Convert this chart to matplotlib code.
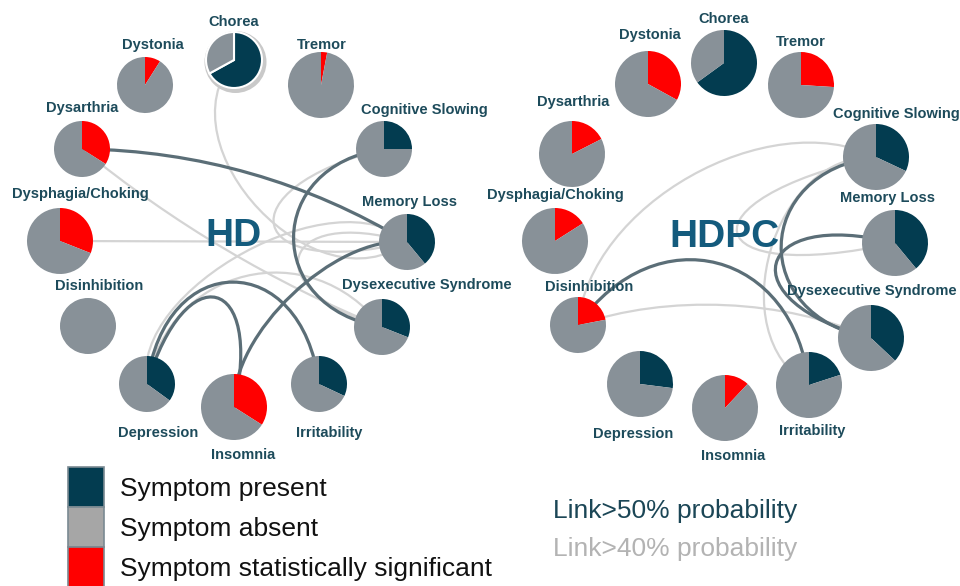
import numpy as np
import matplotlib.pyplot as plt
from matplotlib.path import Path
from matplotlib.patches import PathPatch, Circle, Rectangle

W, H = 960, 586

# symptom nodes and their share of patients with the symptom
symptoms = ['Chorea', 'Dystonia', 'Tremor', 'Dysarthria', 'Cognitive Slowing',
            'Dysphagia/Choking', 'Memory Loss', 'Disinhibition',
            'Dysexecutive Syndrome', 'Depression', 'Insomnia', 'Irritability']
hd_share = [0.67, 0.09, 0.03, 0.34, 0.25, 0.31, 0.39, 0.0, 0.31, 0.35, 0.34, 0.32]
hd_sig = [0, 1, 1, 1, 0, 1, 0, 0, 0, 0, 1, 0]
hdpc_share = [0.65, 0.33, 0.26, 0.175, 0.32, 0.16, 0.39, 0.22, 0.37, 0.27, 0.12, 0.20]
hdpc_sig = [0, 1, 1, 1, 0, 1, 0, 1, 0, 0, 1, 0]

# links: (from, to, strong?)
hd_links = [('Dysarthria', 'Memory Loss', 1), ('Cognitive Slowing', 'Dysexecutive Syndrome', 1),
            ('Depression', 'Irritability', 1), ('Depression', 'Insomnia', 1),
            ('Insomnia', 'Memory Loss', 1),
            ('Chorea', 'Memory Loss', 0), ('Dysarthria', 'Dysexecutive Syndrome', 0),
            ('Dysphagia/Choking', 'Memory Loss', 0), ('Cognitive Slowing', 'Memory Loss', 0),
            ('Depression', 'Memory Loss', 0), ('Depression', 'Dysexecutive Syndrome', 0),
            ('Memory Loss', 'Dysexecutive Syndrome', 0)]
hdpc_links = [('Disinhibition', 'Irritability', 1), ('Cognitive Slowing', 'Dysexecutive Syndrome', 1),
              ('Memory Loss', 'Dysexecutive Syndrome', 1),
              ('Cognitive Slowing', 'Disinhibition', 0), ('Disinhibition', 'Dysexecutive Syndrome', 0),
              ('Cognitive Slowing', 'Memory Loss', 0), ('Cognitive Slowing', 'Irritability', 0)]

legend_items = ['Symptom present', 'Symptom absent', 'Symptom statistically significant']
link_items = ['Link>50% probability', 'Link>40% probability']

# ---- layout (pixel positions) ----
hd_xy = [(234, 60), (145, 85), (321, 85), (82, 149), (384, 149), (60, 241),
         (407, 242), (88, 326), (382, 327), (147, 384), (234, 407), (319, 384)]
hd_r = [28, 28, 33, 28, 28, 33, 28, 28, 28, 28, 33, 28]
hd_lab = [(234, 22), (153, 45), (322, 45), (82, 108), (424, 110), (80, 194),
          (410, 202), (99, 286), (427, 285), (158, 433), (243, 455), (329, 433)]
hdpc_xy = [(724, 63), (648, 84), (801, 85), (572, 154), (876, 157), (555, 241),
           (895, 243), (578, 325), (871, 338), (640, 384), (725, 408), (809, 385)]
hdpc_r = [33, 33, 33, 33, 33, 33, 33, 28, 33, 33, 33, 33]
hdpc_lab = [(724, 19), (650, 35), (801, 42), (573, 102), (896, 114), (555, 195),
            (887, 198), (589, 287), (872, 291), (633, 434), (733, 456), (812, 431)]
# curve shape per link: (bend, spread)
hd_bend = [(-0.09, 0.33), (0.67, 0.1), (-0.79, 0.1), (-1.5, 0.05), (-0.23, 0.2),
           (0.45, 0.05), (0.05, 0.33), (0.0, 0.33), (1.74, 0.0),
           (-0.31, 0.1), (-0.45, 0.2), (1.5, 0.0)]
hdpc_bend = [(-0.53, 0.2), (0.68, 0.1), (1.5, 0.0),
             (0.29, 0.2), (-0.12, 0.3), (2.3, 0.0), (0.42, 0.1)]

DARK = '#033c50'
GREY = '#889198'
RED = '#ff0000'
LABEL = '#1d4b5b'
STRONG = '#5b6e77'
WEAK = '#d4d4d4'

fig = plt.figure(figsize=(9.6, 5.86), dpi=100)
ax = fig.add_axes([0, 0, 1, 1])


def draw_link(p0, p1, bend, spread, strong):
    p0, p1 = np.array(p0, float), np.array(p1, float)
    d = p1 - p0
    L = np.hypot(*d)
    n = np.array([-d[1], d[0]]) / L
    c1 = p0 + spread * d + n * bend * L
    c2 = p1 - spread * d + n * bend * L
    path = Path([p0, c1, c2, p1], [Path.MOVETO, Path.CURVE4, Path.CURVE4, Path.CURVE4])
    ax.add_patch(PathPatch(path, fill=False, edgecolor=STRONG if strong else WEAK,
                           lw=2.3 if strong else 1.6, zorder=2 if strong else 1,
                           capstyle='round'))


def draw_network(xy, radii, labels, share, sig, links, bends, title, title_xy):
    idx = {s: i for i, s in enumerate(symptoms)}
    for (a, b, strong), (bend, spread) in zip(links, bends):
        draw_link(xy[idx[a]], xy[idx[b]], bend, spread, strong)
    for i, s in enumerate(symptoms):
        x, y = xy[i]
        col = RED if sig[i] else DARK
        shadow = (s == 'Chorea' and title == 'HD')
        if shadow:
            ax.add_patch(Circle((x + 1.5, y + 2), radii[i] + 3, color='#c9c9c9', zorder=3, lw=0))
        ax.pie([share[i], 1 - share[i]], colors=[col, GREY], center=(x, y),
               radius=radii[i], startangle=-90, counterclock=True, frame=True,
               wedgeprops=dict(linewidth=1.5 if shadow else 0, edgecolor='white', zorder=4))
        lx, ly = labels[i]
        ax.text(lx, ly, s, ha='center', va='center', fontsize=10.5, fontweight='bold',
                color=LABEL, family='Liberation Sans', zorder=6)
    ax.text(title_xy[0], title_xy[1], title, ha='center', va='center', fontsize=28,
            fontweight='bold', color='#145b7d', family='Liberation Sans', zorder=6)


draw_network(hd_xy, hd_r, hd_lab, hd_share, hd_sig, hd_links, hd_bend, 'HD', (234, 236))
draw_network(hdpc_xy, hdpc_r, hdpc_lab, hdpc_share, hdpc_sig, hdpc_links, hdpc_bend, 'HDPC', (724, 237))

# legend
for k, (txt, c) in enumerate(zip(legend_items, [DARK, '#a6a6a6', RED])):
    y0 = 467 + 40 * k
    ax.add_patch(Rectangle((68, y0), 36, 40, facecolor=c, edgecolor='#7a8a92', lw=1.2, zorder=5))
    ax.text(120, y0 + 22, txt, ha='left', va='center', fontsize=19, color='#111111',
            family='Liberation Sans')
for k, (txt, c) in enumerate(zip(link_items, ['#1b4656', '#b3b3b3'])):
    ax.text(553, 511 + 38 * k, txt, ha='left', va='center', fontsize=19, color=c,
            family='Liberation Sans')

ax.set_xlim(0, W)
ax.set_ylim(H, 0)
ax.set_aspect('auto')
ax.axis('off')
fig.savefig('out.png', dpi=100, facecolor='white')
